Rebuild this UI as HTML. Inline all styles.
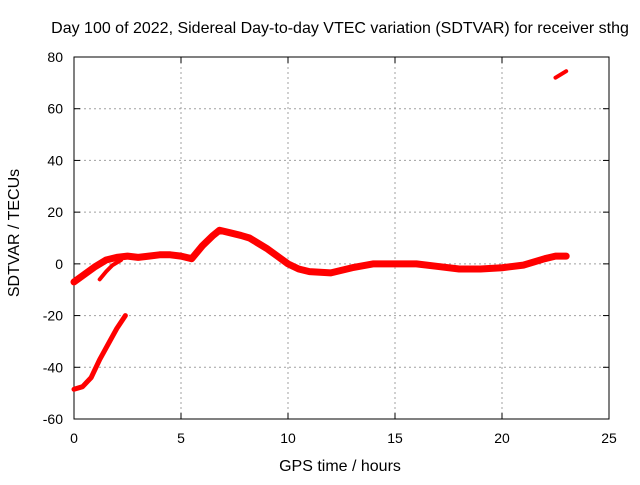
<!DOCTYPE html>
<html><head><meta charset="utf-8"><style>
body{margin:0;background:#fff;}
svg text{font-family:"Liberation Sans",sans-serif;font-size:14px;fill:#000}
svg text.big{font-size:16px}
</style></head><body>
<svg width="640" height="480">
<g id="grid"></g><g id="axes"></g><g id="series"></g>
<text class="big" x="340" y="33" text-anchor="middle">Day 100 of 2022, Sidereal Day-to-day VTEC variation (SDTVAR) for receiver sthg</text>
<text class="big" x="340" y="471" text-anchor="middle">GPS time / hours</text>
<text class="big" transform="translate(19,233) rotate(-90)" text-anchor="middle">SDTVAR / TECUs</text>
</svg>
<script>
const xTicks=[0,5,10,15,20,25];
const yTicks=[-60,-40,-20,0,20,40,60,80];
const mainT=[0,0.5,1,1.5,2,2.5,3,3.5,4,4.5,5,5.5,6,6.5,6.8,7.3,7.8,8.2,9,9.5,10,10.5,11,12,13,14,15,16,17,18,19,20,21,22,22.5,23];
const mainV=[-7,-4,-1,1.5,2.5,3,2.5,3,3.5,3.5,3,2,7,11,13,12,11,10,6,3,0,-2,-3,-3.5,-1.5,0,0,0,-1,-2,-2,-1.5,-0.5,2,3,3];
const branchT=[1.2,1.5,1.8,2.2];
const branchV=[-6,-3,-0.5,1.5];
const dropT=[0,0.4,0.8,1.2,1.6,2,2.4];
const dropV=[-48.5,-47.5,-44,-37,-31,-25,-20];
const topT=[22.5,23];
const topV=[72,74.5];
const X0=74,X1=609,Y0=419,Y1=57;
const xs=t=>X0+(t-0)/25*(X1-X0);
const ys=v=>Y0-(v+60)/140*(Y0-Y1);
const NS='http://www.w3.org/2000/svg';
function mk(tag,parent,attrs){const e=document.createElementNS(NS,tag);for(const k in attrs)e.setAttribute(k,attrs[k]);parent.appendChild(e);return e;}
const grid=document.getElementById('grid'),axes=document.getElementById('axes'),ser=document.getElementById('series');
xTicks.forEach(t=>{
  if(t>0&&t<25){const l=mk('line',grid,{x1:xs(t),x2:xs(t),y1:Y1,y2:Y0,stroke:'#a0a0a0','stroke-dasharray':'2,3'});
  
  }
  mk('line',axes,{x1:xs(t),x2:xs(t),y1:Y0,y2:Y0-6,stroke:'#000'});
  mk('line',axes,{x1:xs(t),x2:xs(t),y1:Y1,y2:Y1+6,stroke:'#000'});
  const tx=mk('text',axes,{x:xs(t),y:Y0+24,'text-anchor':'middle'});tx.textContent=t;
  
  
});
yTicks.forEach(v=>{
  if(v>-60&&v<80){const l=mk('line',grid,{x1:X0,x2:X1,y1:ys(v),y2:ys(v),stroke:'#a0a0a0','stroke-dasharray':'2,3'});
  
  }
  mk('line',axes,{x1:X0,x2:X0+6,y1:ys(v),y2:ys(v),stroke:'#000'});
  mk('line',axes,{x1:X1,x2:X1-6,y1:ys(v),y2:ys(v),stroke:'#000'});
  const tx=mk('text',axes,{x:X0-11,y:ys(v)+5,'text-anchor':'end'});tx.textContent=v;
  
  
});
const fr=mk('rect',axes,{x:X0,y:Y1,width:X1-X0,height:Y0-Y1,fill:'none',stroke:'#000'});


function line(T,V,w,name){
  const p=mk('polyline',ser,{points:T.map((t,i)=>xs(t)+','+ys(V[i])).join(' '),fill:'none',stroke:'#ff0000','stroke-width':w,'stroke-linejoin':'round','stroke-linecap':'round'});
  
  
}
line(mainT,mainV,7,'sdtvar-main-series');
line(branchT,branchV,4,'sdtvar-branch-series');
line(dropT,dropV,5,'sdtvar-drop-series');
line(topT,topV,4,'sdtvar-top-series');
</script>
</body></html>
